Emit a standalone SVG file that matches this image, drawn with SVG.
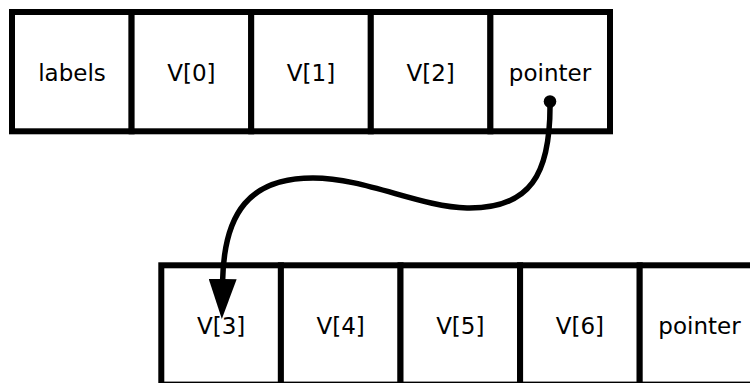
<svg xmlns="http://www.w3.org/2000/svg" width="750" height="383" viewBox="0 0 750 383">
<style>
.cell{fill:#fff;stroke:#000;stroke-width:6}
.lbl{font-family:"DejaVu Sans",sans-serif;font-size:23px;fill:#000;text-anchor:middle}
.link{fill:none;stroke:#000;stroke-width:5.5;stroke-linecap:round}
</style>
<defs>
<marker id="arrow" viewBox="0 0 40 28" refX="2" refY="14" markerWidth="40" markerHeight="28" markerUnits="userSpaceOnUse" orient="auto">
<path d="M0,0 L40,14 L0,28 Z" fill="#000"/>
</marker>
</defs>
<rect width="750" height="383" fill="#fff"/>
<g id="row1">
<g id="n-labels"><rect class="cell" x="12" y="12" width="119.6" height="119.3"/><text class="lbl" x="72" y="80.5">labels</text></g>
<g id="n-v0"><rect class="cell" x="131.6" y="12" width="119.6" height="119.3"/><text class="lbl" x="191.4" y="80.5">V[0]</text></g>
<g id="n-v1"><rect class="cell" x="251.2" y="12" width="119.6" height="119.3"/><text class="lbl" x="311" y="80.5">V[1]</text></g>
<g id="n-v2"><rect class="cell" x="370.8" y="12" width="119.6" height="119.3"/><text class="lbl" x="430.6" y="80.5">V[2]</text></g>
<g id="n-pointer1"><rect class="cell" x="490.4" y="12" width="119.6" height="119.3"/><text class="lbl" x="550" y="80.5">pointer</text></g>
</g>
<g id="row2">
<g id="n-v3"><rect class="cell" x="161.3" y="265.3" width="119.6" height="119.3"/><text class="lbl" x="221.1" y="334">V[3]</text></g>
<g id="n-v4"><rect class="cell" x="280.9" y="265.3" width="119.6" height="119.3"/><text class="lbl" x="340.7" y="334">V[4]</text></g>
<g id="n-v5"><rect class="cell" x="400.5" y="265.3" width="119.6" height="119.3"/><text class="lbl" x="460.3" y="334">V[5]</text></g>
<g id="n-v6"><rect class="cell" x="520.1" y="265.3" width="119.6" height="119.3"/><text class="lbl" x="579.9" y="334">V[6]</text></g>
<g id="n-pointer2"><rect class="cell" x="639.7" y="265.3" width="119.6" height="119.3"/><text class="lbl" x="699.5" y="334">pointer</text></g>
</g>
<g id="connectors">
<circle cx="550" cy="101.5" r="6.3" fill="#000"/>
<path class="link" d="M550,101.5 C551,175 530,209 467,208 C420,207 365,178 313,178 C250,178 224,212 222.6,281" marker-end="url(#arrow)"/>
</g>
</svg>
